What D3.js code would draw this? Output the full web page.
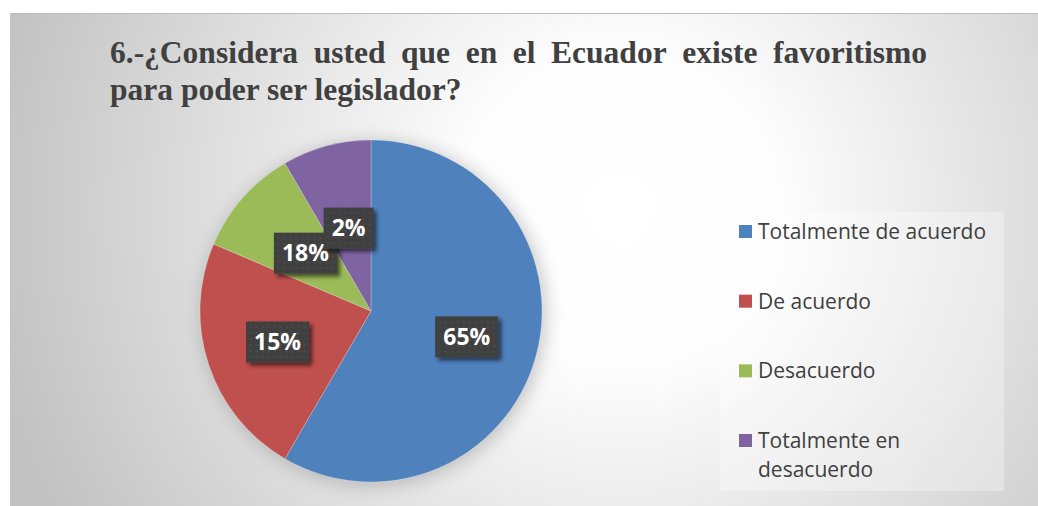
<!DOCTYPE html>
<html>
<head>
<meta charset="utf-8">
<script src="https://cdn.jsdelivr.net/npm/d3@7"></script>
<style>
  html, body { margin: 0; padding: 0; background: #fff; }
  svg { display: block; }
</style>
</head>
<body>
<div id="chart"></div>
<script>
// data
const categories = ["Totalmente de acuerdo", "De acuerdo", "Desacuerdo", "Totalmente en desacuerdo"];
const sliceValues = [58.4, 23.0, 10.2, 8.4];
const sliceLabels = ["65%", "15%", "18%", "2%"];
const colors = ["#4f81bd", "#c0504d", "#9bbb59", "#8064a2"];
const titleLines = ["6.-¿Considera usted que en el Ecuador existe favoritismo", "para poder ser legislador?"];

const width = 1038, height = 506;
const cx = 371, cy = 311, R = 171;

const svg = d3.select("#chart").append("svg").attr("width", width).attr("height", height);
const defs = svg.append("defs");

// background gradient
const bg = defs.append("radialGradient").attr("id", "bg")
    .attr("gradientUnits", "userSpaceOnUse")
    .attr("cx", 620).attr("cy", 210).attr("r", 640);
bg.append("stop").attr("offset", "0").attr("stop-color", "#ffffff");
bg.append("stop").attr("offset", "0.25").attr("stop-color", "#fdfdfd");
bg.append("stop").attr("offset", "1").attr("stop-color", "#c2c2c2");

const shadow = defs.append("filter").attr("id", "pieShadow")
    .attr("x", "-30%").attr("y", "-30%").attr("width", "160%").attr("height", "160%");
shadow.append("feGaussianBlur").attr("stdDeviation", 9);

const boxShadow = defs.append("filter").attr("id", "boxShadow")
    .attr("x", "-30%").attr("y", "-30%").attr("width", "160%").attr("height", "160%");
boxShadow.append("feGaussianBlur").attr("in", "SourceAlpha").attr("stdDeviation", 2).attr("result", "b");
boxShadow.append("feOffset").attr("dx", 3).attr("dy", 3).attr("result", "o");
boxShadow.append("feComponentTransfer").append("feFuncA").attr("type", "linear").attr("slope", 0.6);
const merge = boxShadow.append("feMerge");
merge.append("feMergeNode");
merge.append("feMergeNode").attr("in", "SourceGraphic");

// dotted pattern of the label boxes
const pat = defs.append("pattern").attr("id", "dots").attr("patternUnits", "userSpaceOnUse")
    .attr("width", 6).attr("height", 6);
pat.append("rect").attr("width", 6).attr("height", 6).attr("fill", "#3f3f3f");
pat.append("rect").attr("x", 2).attr("y", 2).attr("width", 2).attr("height", 2).attr("fill", "#4b4b4b");

svg.append("rect").attr("x", 10).attr("y", 13).attr("width", width - 10).attr("height", height - 13)
    .attr("fill", "url(#bg)");
svg.append("line").attr("x1", 10).attr("x2", width).attr("y1", 13.5).attr("y2", 13.5)
    .attr("stroke", "#bdbdbd").attr("stroke-width", 1);
svg.append("line").attr("x1", 10.5).attr("x2", 10.5).attr("y1", 13).attr("y2", height)
    .attr("stroke", "#c4c4c4").attr("stroke-width", 1);

// title, justified on the first line
const titleX = 110, titleRight = 927;
const title = svg.append("g")
    .attr("font-family", "'Liberation Serif', 'Times New Roman', serif")
    .attr("font-weight", "bold").attr("font-size", 31.5).attr("fill", "#404040");
titleLines.forEach((line, li) => {
    const y = 63 + li * 37;
    if (li === 0) {
        const words = line.split(" ");
        const nodes = words.map(w => title.append("text").attr("y", y).text(w));
        const widths = nodes.map(n => n.node().getComputedTextLength());
        const gap = (titleRight - titleX - d3.sum(widths)) / (words.length - 1);
        let x = titleX;
        nodes.forEach((n, i) => { n.attr("x", x); x += widths[i] + gap; });
    } else {
        title.append("text").attr("x", titleX).attr("y", y).text(line);
    }
});

// pie
const pie = d3.pie().sort(null).value(d => d);
const arcs = pie(sliceValues);
const arc = d3.arc().innerRadius(0).outerRadius(R);

svg.append("circle").attr("cx", cx + 2).attr("cy", cy + 3).attr("r", R + 2)
    .attr("fill", "#9a9a9a").attr("opacity", 0.55).attr("filter", "url(#pieShadow)");

const g = svg.append("g").attr("transform", `translate(${cx},${cy})`);
g.selectAll("path").data(arcs).join("path")
    .attr("d", arc)
    .attr("fill", (d, i) => colors[i])
    .attr("stroke", "#ffffff").attr("stroke-width", 0.6).attr("stroke-opacity", 0.4);

// data labels: smaller slices keep their label nearer the centre
const labelRadius = d3.scaleLinear().domain([0.5, 1.5]).range([0.5, 0.58]).clamp(true);
const labels = g.selectAll("g.lbl").data(arcs).join("g").attr("class", "lbl")
    .attr("transform", d => {
        const r = R * labelRadius(d.endAngle - d.startAngle);
        const a = (d.startAngle + d.endAngle) / 2;
        return `translate(${r * Math.sin(a)},${-r * Math.cos(a)})`;
    });
labels.each(function(d, i) {
    const lg = d3.select(this);
    const t = lg.append("text")
        .attr("text-anchor", "middle").attr("dy", "0.36em")
        .attr("font-family", "'Open Sans', 'Noto Sans', sans-serif")
        .attr("font-weight", "bold").attr("font-size", 23)
        .attr("fill", "#ffffff").text(sliceLabels[i]);
    const w = t.node().getComputedTextLength() + 16;
    lg.insert("rect", "text")
        .attr("x", -w / 2).attr("y", -20.5).attr("width", w).attr("height", 41)
        .attr("fill", "url(#dots)").attr("filter", "url(#boxShadow)");
});

// legend
const legend = svg.append("g");
legend.append("rect").attr("x", 720).attr("y", 212).attr("width", 284).attr("height", 279)
    .attr("fill", "#ffffff").attr("opacity", 0.3);
const legendY = d3.scalePoint().domain(categories).range([232, 441]);
const items = legend.selectAll("g.item").data(categories).join("g").attr("class", "item")
    .attr("transform", d => `translate(739,${legendY(d)})`);
items.append("rect").attr("x", 0).attr("y", -7).attr("width", 13).attr("height", 13)
    .attr("fill", (d, i) => colors[i]);
items.append("text")
    .attr("font-family", "'Open Sans', 'Noto Sans', sans-serif")
    .attr("font-size", 21).attr("fill", "#404040")
    .each(function(d) {
        const t = d3.select(this);
        const lines = d === "Totalmente en desacuerdo" ? ["Totalmente en", "desacuerdo"] : [d];
        lines.forEach((ln, k) => t.append("tspan").attr("x", 19).attr("y", 7 + k * 29).text(ln));
    });
</script>
</body>
</html>
